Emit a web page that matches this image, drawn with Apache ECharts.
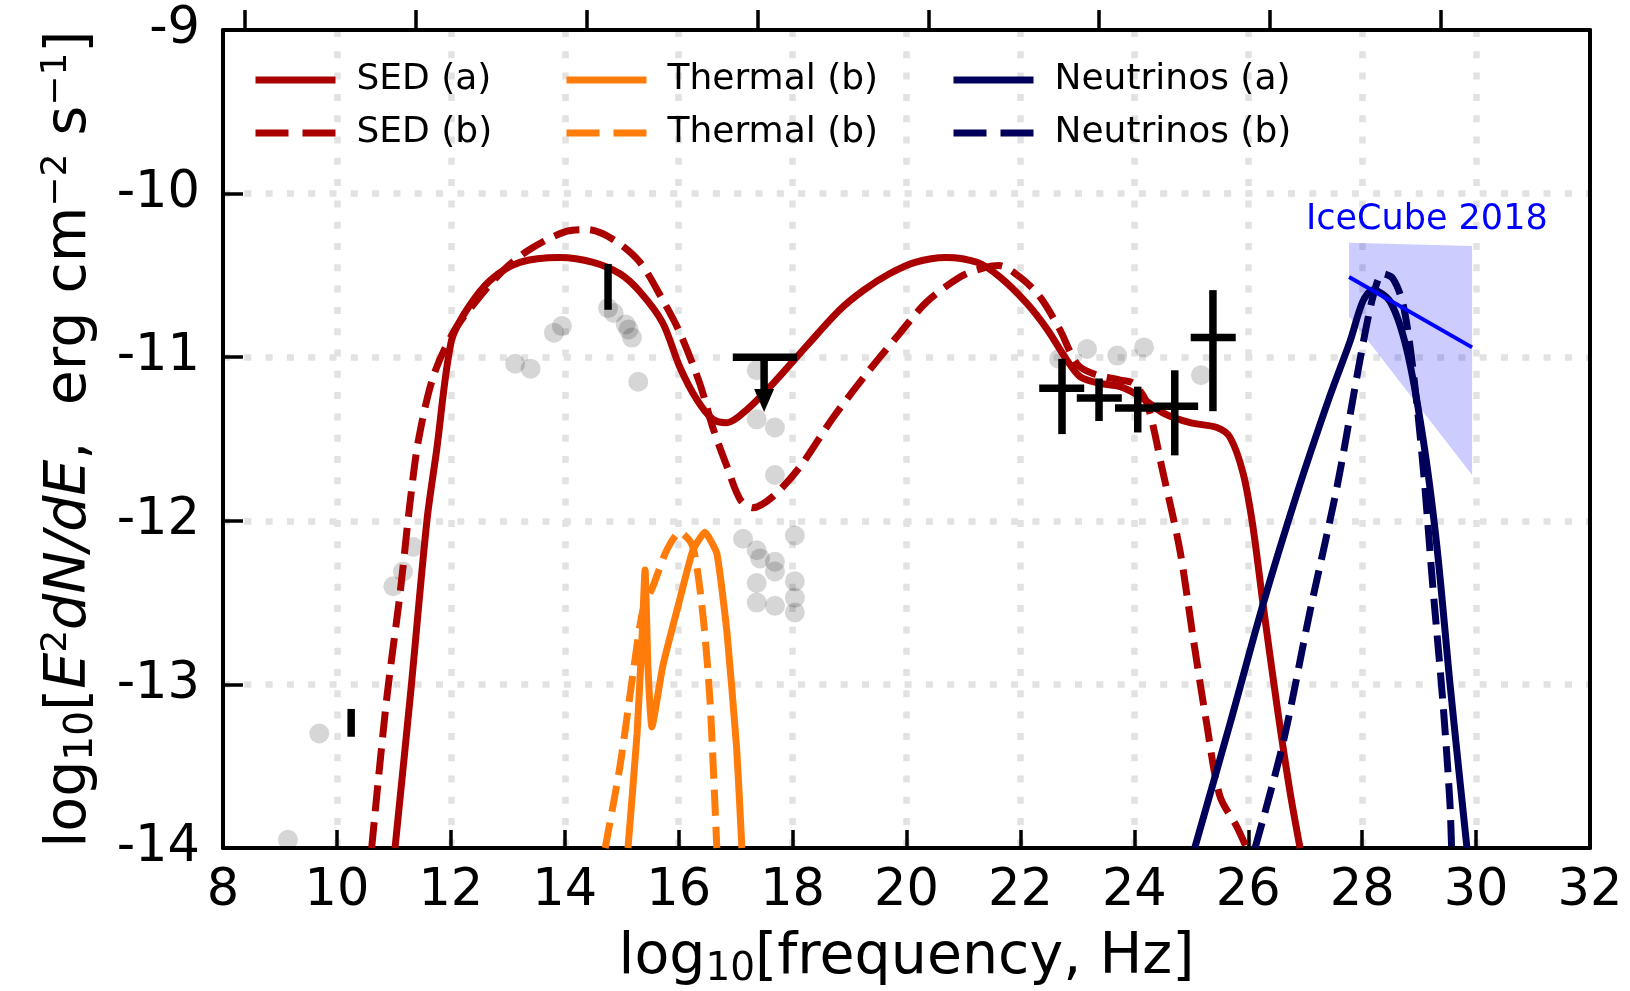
<!DOCTYPE html>
<html><head><meta charset="utf-8">
<script src="https://cdn.jsdelivr.net/npm/echarts@6/dist/echarts.min.js"></script>
<style>html,body{margin:0;padding:0;background:#fff}#c{width:1630px;height:991px}</style>
</head><body><div id="c"></div>
<script>
// ---------- tick values ----------
const xTicks = [8,10,12,14,16,18,20,22,24,26,28,30,32];
const yTicks = [-14,-13,-12,-11,-10,-9];
const energyTicksEV = [-6,-3,0,3,6,9,12,15];   // log10(E/eV), top axis ticks
const log10HzPerEV = 14.383;

// ---------- model curves [log10 nu, log10 flux] ----------
const sedA = [[11.02,-14.0],[11.30,-13.03],[11.58,-12.00],[11.75,-11.57],[12.01,-10.90],[12.28,-10.71],[12.69,-10.53],[13.21,-10.42],[13.92,-10.39],[14.50,-10.42],[14.97,-10.49],[15.32,-10.60],[15.72,-10.79],[16.02,-11.06],[16.32,-11.26],[16.60,-11.38],[16.85,-11.40],[17.20,-11.32],[17.66,-11.16],[18.25,-10.93],[18.83,-10.71],[19.25,-10.59],[19.70,-10.49],[20.15,-10.42],[20.69,-10.39],[21.24,-10.42],[21.64,-10.51],[22.11,-10.67],[22.47,-10.83],[22.82,-11.02],[23.05,-11.12],[23.40,-11.16],[23.75,-11.18],[24.10,-11.24],[24.50,-11.34],[24.98,-11.40],[25.45,-11.43],[25.68,-11.49],[25.91,-11.71],[26.08,-12.03],[26.26,-12.51],[26.50,-13.12],[26.73,-13.65],[26.91,-14.0]];
const sedB = [[10.61,-14.0],[10.87,-13.10],[11.11,-12.44],[11.28,-11.90],[11.43,-11.51],[11.69,-11.12],[12.04,-10.85],[12.46,-10.65],[12.92,-10.47],[13.39,-10.34],[14.04,-10.23],[14.39,-10.22],[14.85,-10.28],[15.32,-10.42],[15.72,-10.65],[16.02,-10.85],[16.37,-11.16],[16.60,-11.43],[16.85,-11.67],[17.08,-11.87],[17.30,-11.92],[17.66,-11.85],[18.13,-11.67],[18.71,-11.37],[19.30,-11.10],[19.89,-10.85],[20.36,-10.66],[20.94,-10.51],[21.30,-10.46],[21.62,-10.44],[21.99,-10.51],[22.34,-10.63],[22.69,-10.83],[22.99,-11.04],[23.27,-11.10],[23.75,-11.14],[23.98,-11.16],[24.22,-11.28],[24.50,-11.70],[24.80,-12.18],[25.03,-12.71],[25.27,-13.24],[25.50,-13.68],[25.80,-13.87],[25.97,-14.0]];
const thermalA = [[15.11,-14.0],[15.27,-13.30],[15.36,-12.69],[15.41,-12.30],[15.46,-12.89],[15.53,-13.26],[15.72,-12.89],[16.02,-12.48],[16.25,-12.18],[16.46,-12.07],[16.67,-12.20],[16.85,-12.69],[17.02,-13.40],[17.11,-14.0]];
const thermalB = [[14.71,-14.0],[14.97,-13.50],[15.20,-12.93],[15.37,-12.55],[15.55,-12.40],[15.79,-12.18],[16.02,-12.07],[16.25,-12.16],[16.43,-12.59],[16.55,-13.10],[16.67,-14.0]];
const nuA = [[25.06,-14.0],[25.68,-13.24],[26.26,-12.51],[26.85,-11.84],[27.43,-11.24],[27.79,-10.90],[28.01,-10.66],[28.19,-10.59],[28.49,-10.66],[28.78,-10.95],[29.07,-11.50],[29.31,-12.15],[29.54,-12.99],[29.72,-13.60],[29.84,-14.0]];
const nuB = [[26.12,-14.0],[26.61,-13.36],[27.08,-12.56],[27.56,-11.79],[27.96,-11.02],[28.19,-10.63],[28.36,-10.49],[28.54,-10.52],[28.72,-10.68],[28.89,-11.07],[29.07,-11.67],[29.24,-12.40],[29.42,-13.12],[29.54,-13.72],[29.57,-14.0]];

// ---------- IceCube 2018 ----------
const icecubeBand = [[27.77,-10.30],[29.93,-10.32],[29.93,-11.72],[27.77,-10.75]];
const icecubeFit = [[27.77,-10.51],[29.93,-10.94]];

// ---------- archival data (grey) ----------
const archival = [[9.14,-13.95],[9.69,-13.30],[10.99,-12.40],[11.16,-12.31],[11.34,-12.16],[13.13,-11.04],[13.40,-11.07],[13.81,-10.85],[13.95,-10.81],[14.76,-10.70],[14.86,-10.73],[15.07,-10.80],[15.12,-10.83],[15.18,-10.88],[15.29,-11.15],[17.37,-11.08],[17.37,-11.38],[17.69,-11.43],[17.69,-11.72],[17.13,-12.11],[17.37,-12.18],[17.43,-12.23],[17.69,-12.25],[17.69,-12.31],[17.37,-12.38],[17.37,-12.50],[17.69,-12.52],[18.04,-12.09],[18.04,-12.37],[18.04,-12.47],[18.04,-12.56],[22.68,-11.01],[23.17,-10.95],[23.70,-10.99],[24.17,-10.94],[25.17,-11.11]];

// ---------- measurements with errors [x, y, xlo, xhi, ylo, yhi] ----------
const errPoints = [[10.25,-13.235,10.25,10.25,-13.32,-13.15],[14.76,-10.57,14.76,14.76,-10.71,-10.43],[22.73,-11.19,22.33,23.12,-11.47,-11.01],[23.38,-11.25,22.99,23.78,-11.39,-11.13],[24.06,-11.31,23.66,24.45,-11.46,-11.18],[24.71,-11.30,24.33,25.12,-11.60,-11.08],[25.38,-10.88,24.99,25.78,-11.33,-10.59]];
// upper limit [x, y, xlo, xhi, arrowTipY]
const upperLimits = [[17.50,-11.00,16.95,18.08,-11.335]];

// ---------- styling ----------
const FONT = 'DejaVu Sans';
const RED = '#aa0000', ORANGE = '#ff7b0a', NAVY = '#00005a';
const DASH = [26, 11];
const GRIDLINE = {color:'#e2e2e2', width:6.5, type:[7,14.3], cap:'butt'};

function lineSeries(name, data, color, dashed, z, smooth){
  return {name, type:'line', data, symbol:'none', showSymbol:false, smooth: smooth==null?0.3:smooth,
    clip:true, z, animation:false, emphasis:{disabled:true},
    lineStyle:{color, width:7, type: dashed?DASH:'solid', cap:'butt', join:'round'}, itemStyle:{color}};
}

const chart = echarts.init(document.getElementById('c'), null, {renderer:'canvas', width:1630, height:991});

const nameRich = {
  n:{fontSize:57, fontFamily:FONT, color:'#000', lineHeight:62},
  i:{fontSize:57, fontFamily:FONT, color:'#000', lineHeight:62, fontStyle:'italic'},
  s:{fontSize:39, fontFamily:FONT, color:'#000', lineHeight:29, verticalAlign:'bottom'},
  p:{fontSize:36, fontFamily:FONT, color:'#000', lineHeight:22, verticalAlign:'top'}
};

const legendCols = [
  {left:247, items:['SED (a)','SED (b)']},
  {left:558, items:['Thermal (b)','Thermal (b)\u200b']},
  {left:945, items:['Neutrinos (a)','Neutrinos (b)']}
];

const option = {
  animation:false,
  backgroundColor:'#fff',
  grid:{left:223, right:40, top:30, bottom:143, containLabel:false, outerBoundsMode:'none'},
  legend: legendCols.map(col => ({
    orient:'vertical', left:col.left, top:55, padding:5,
    itemWidth:80, itemHeight:14, itemGap:13, selectedMode:false,
    lineStyle:{width:7, opacity:1},
    itemStyle:{opacity:0, borderWidth:0},
    formatter: n => n.replace('\u200b',''),
    textStyle:{fontSize:36, fontFamily:FONT, color:'#000', lineHeight:40, padding:[0,0,0,16]},
    data:[{name:col.items[0], itemStyle:{opacity:0}},
          {name:col.items[1], itemStyle:{opacity:0}, lineStyle:{type:[33,14], width:7}}]
  })),
  xAxis:[{
    type:'value', min:8, max:32, interval:2, position:'bottom',
    name:'{n|log}{s|10}{n|[frequency, Hz]}', nameLocation:'middle', nameGap:79,
    nameTextStyle:{rich:nameRich},
    axisLine:{show:true, onZero:false, lineStyle:{color:'#000', width:4}},
    axisTick:{show:true, inside:true, length:18, customValues:xTicks, lineStyle:{color:'#000', width:3.5}},
    axisLabel:{show:true, margin:18, customValues:xTicks, fontSize:51, fontFamily:FONT, color:'#000', lineHeight:51,
      formatter: v => String(v)},
    splitLine:{show:true, showMinLine:false, showMaxLine:false, lineStyle:GRIDLINE}
  },{
    type:'value', min:8, max:32, position:'top',
    axisLine:{show:true, onZero:false, lineStyle:{color:'#000', width:4}},
    axisTick:{show:true, inside:false, length:20, customValues: energyTicksEV.map(e => e + log10HzPerEV), lineStyle:{color:'#000', width:3.5}},
    axisLabel:{show:false},
    splitLine:{show:false}
  }],
  yAxis:[{
    type:'value', min:-14, max:-9, interval:1, position:'left',
    name:'{n|log}{s|10}{n|[}{i|E}{p|2}{i|dN/dE}{n|,  erg cm}{p|\u22122}{n| s}{p|\u22121}{n|]}',
    nameLocation:'middle', nameGap:122, nameRotate:90,
    nameTextStyle:{rich:nameRich},
    axisLine:{show:true, onZero:false, lineStyle:{color:'#000', width:4}},
    axisTick:{show:true, inside:true, length:20, customValues:yTicks, lineStyle:{color:'#000', width:3.5}},
    axisLabel:{show:true, margin:23, customValues:yTicks, fontSize:51, fontFamily:FONT, color:'#000',
      formatter: v => String(v)},
    splitLine:{show:true, showMinLine:false, showMaxLine:false, lineStyle:GRIDLINE}
  },{
    type:'value', min:-14, max:-9, position:'right',
    axisLine:{show:true, onZero:false, lineStyle:{color:'#000', width:4}},
    axisTick:{show:false}, axisLabel:{show:false}, splitLine:{show:false}
  }],
  graphic:[{
    type:'text', x:1306, y:220, z:10,
    style:{text:'IceCube 2018', font:'35px "DejaVu Sans"', fill:'#0000ff', verticalAlign:'middle', align:'left'}
  }],
  series:[
    {name:'archival', type:'scatter', data:archival, symbol:'circle', symbolSize:20, z:1,
      itemStyle:{color:'rgba(0,0,0,0.2)'}, emphasis:{disabled:true}, clip:true},
    {name:'icecube band', type:'custom', z:1.5, clip:true, data:[0],
      renderItem:(params, api) => {
        const pts = icecubeBand.map(p => api.coord(p));
        return {type:'polygon', shape:{points:pts}, style:{fill:'rgba(0,0,255,0.2)'}};
      }},
    lineSeries('SED (a)', sedA, RED, false, 3),
    lineSeries('SED (b)', sedB, RED, true, 3),
    lineSeries('Thermal (b)', thermalA, ORANGE, false, 3, 0.15),
    lineSeries('Thermal (b)\u200b', thermalB, ORANGE, true, 3, 0.25),
    lineSeries('Neutrinos (a)', nuA, NAVY, false, 3),
    lineSeries('Neutrinos (b)', nuB, NAVY, true, 3),
    {name:'icecube fit', type:'line', data:icecubeFit, symbol:'none', z:4, clip:true,
      lineStyle:{color:'#0000ff', width:4}, emphasis:{disabled:true}},
    {name:'measurements', type:'custom', z:5, clip:true, data:errPoints,
      renderItem:(params, api) => {
        const x = api.value(0), y = api.value(1);
        const a = api.coord([api.value(2), y]), b = api.coord([api.value(3), y]);
        const d = api.coord([x, api.value(4)]), e = api.coord([x, api.value(5)]);
        const st = {stroke:'#000', lineWidth:7.5, lineCap:'butt'};
        const ch = [{type:'line', shape:{x1:d[0], y1:d[1], x2:e[0], y2:e[1]}, style:st}];
        if (api.value(3) > api.value(2)) ch.push({type:'line', shape:{x1:a[0], y1:a[1], x2:b[0], y2:b[1]}, style:st});
        return {type:'group', children:ch};
      }},
    {name:'upper limits', type:'custom', z:5, clip:true, data:upperLimits,
      renderItem:(params, api) => {
        const x = api.value(0), y = api.value(1);
        const a = api.coord([api.value(2), y]), b = api.coord([api.value(3), y]);
        const top = api.coord([x, y]), tip = api.coord([x, api.value(4)]);
        const headH = 23, headW = 10;
        const st = {stroke:'#000', lineWidth:7.5, lineCap:'butt'};
        return {type:'group', children:[
          {type:'line', shape:{x1:a[0], y1:a[1], x2:b[0], y2:b[1]}, style:st},
          {type:'line', shape:{x1:top[0], y1:top[1], x2:tip[0], y2:tip[1]-headH+2}, style:st},
          {type:'polygon', shape:{points:[[tip[0]-headW, tip[1]-headH],[tip[0]+headW, tip[1]-headH],[tip[0], tip[1]]]}, style:{fill:'#000'}}
        ]};
      }}
  ]
};
chart.setOption(option);
</script>
</body></html>
